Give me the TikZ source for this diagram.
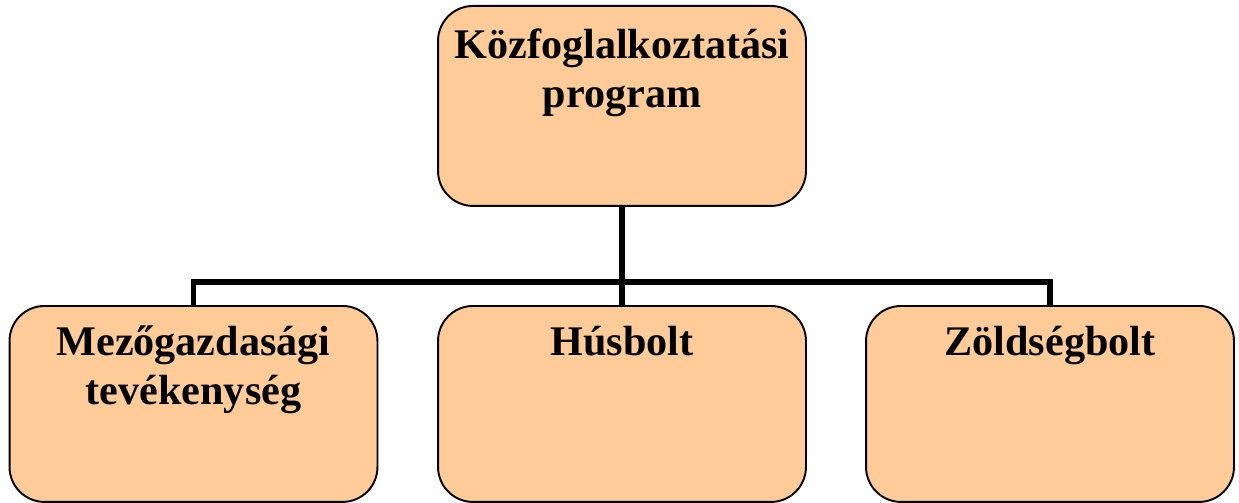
\documentclass[tikz,border=0pt]{standalone}
\usepackage{fontspec}
\setmainfont{Liberation Serif}
\usepackage{tikz}
\usetikzlibrary{positioning}

\definecolor{peach}{RGB}{255,204,153}

\begin{document}
\begin{tikzpicture}[x=0.02cm, y=-0.02cm]
    \tikzset{box/.style={
      draw, fill=peach, line width=1.1pt, rectangle, rounded corners=0.7cm,
      anchor=north, inner sep=0pt, align=center,
      font=\fontsize{24}{27.7}\selectfont\bfseries,
      text width=7.36cm, text height=1.0cm, text depth=3.0cm}}
    \tikzset{conn/.style={line width=3.4pt}}

    \useasboundingbox (0, 0) rectangle (1239, 503);

    % Boxes
    \path (622, 5) node [box, text height=1.06cm, text depth=2.94cm] (prog)
          {Közfoglalkoztatási\\program};

    \path (193.5, 305) node [box, text depth=2.92cm] (mezo)
          {Mezőgazdasági\\tevékenység};
    \path (622, 305) node [box, text depth=2.92cm] (hus) {Húsbolt};
    \path (1050, 305) node [box, text depth=2.92cm] (zold) {Zöldségbolt};

    % Anchor for the branch line.
    \path (622, 282) coordinate (bus);

    % Edges
    \draw [conn] (prog) -- (hus);
    \draw [conn] (mezo.north) |- (bus) -| (zold.north);
\end{tikzpicture}
\end{document}
